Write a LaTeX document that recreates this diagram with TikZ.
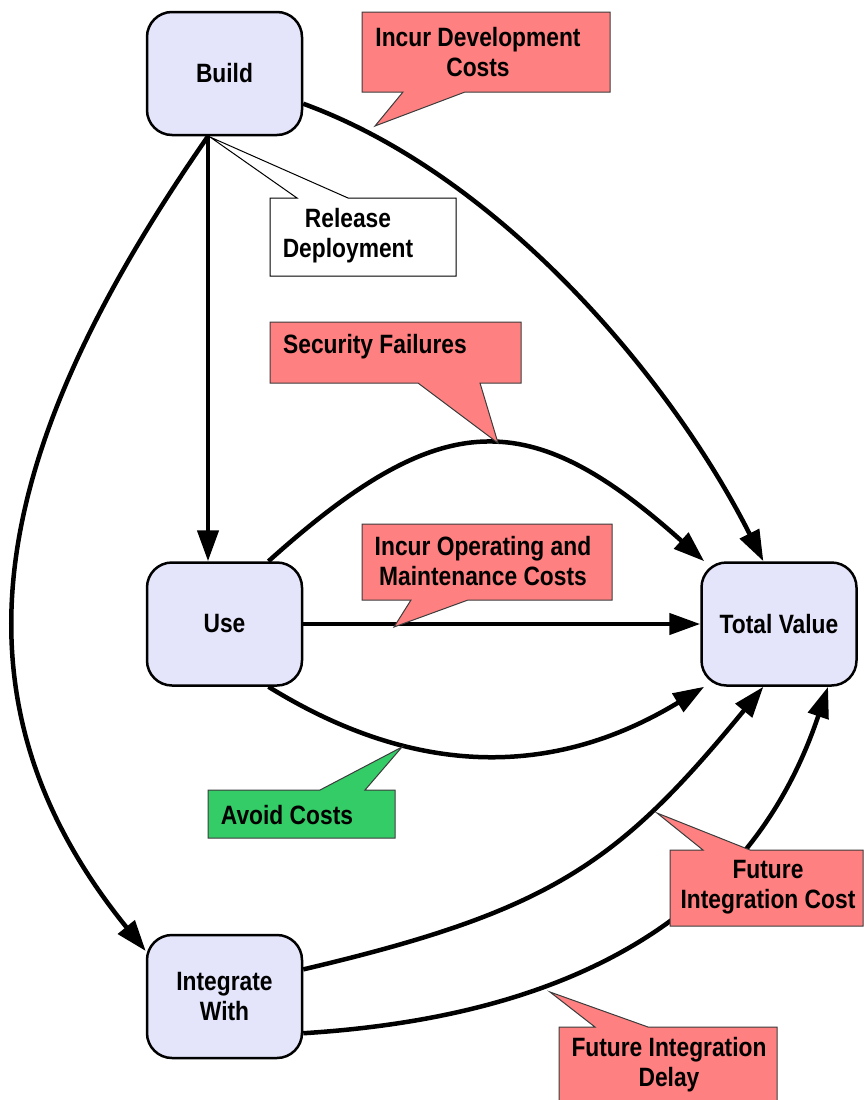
\documentclass[tikz,border=0pt]{standalone}
\usepackage{fontspec}
\setmainfont{Liberation Sans}[FakeStretch=0.86]
\usetikzlibrary{arrows.meta}
\definecolor{boxfill}{RGB}{228,228,250}
\definecolor{callred}{RGB}{255,128,128}
\definecolor{callgreen}{RGB}{51,204,102}
\definecolor{callline}{RGB}{60,60,60}
\begin{document}
\begin{tikzpicture}[x=1pt,y=-1pt,
  lbl/.style={font=\fontsize{26.5}{30}\selectfont\bfseries, align=center, inner sep=0pt},
  box/.style={lbl, draw=black, line width=2.5pt, fill=boxfill, rounded corners=25pt, minimum width=155pt, minimum height=123pt},
  conn/.style={line width=4.5pt, -{Triangle[length=31pt,width=21pt]}},
  callshape/.style={draw=callline, line width=1pt, fill=callred, line join=miter},
]
\useasboundingbox (0,0) rectangle (864,1100);

% main boxes
\node[box] (build) at (224.5,73.5) {Build};
\node[box] (use) at (224.5,624) {Use};
\node[box] (tv) at (779,624) {Total Value};
\node[box] (int) at (224.5,996.5) {Integrate\\With};

% connectors
\coordinate (bs) at ([xshift=-16.5pt]build.south);
\draw[conn] (bs) -- (bs |- use.north);
\draw[conn] (bs) .. controls (-3,440) and (-66,690) .. (int.150);
\draw[conn] (build.-21) .. controls (502,176) and (673,382) .. (tv.104);
\draw[conn] (use.55) .. controls (442,405) and (530,405) .. (tv.140);
\draw[conn] (use.east) -- (tv.west);
\draw[conn] (use.-55) .. controls (416,778) and (554,778) .. (tv.-140);
\draw[conn] (int.19) .. controls (551,911) and (618,864) .. (tv.-104);
\draw[conn] (int.-25) .. controls (645,1012) and (770,860) .. (tv.-52);

% callouts
\draw[callshape] (362,12) -- (610,12) -- (610,92) -- (465,92) -- (375,126) -- (403,92) -- (362,92) -- cycle;
\node[lbl] (tdev) at (478,52) {Incur Development\\Costs};

\draw[callshape, fill=white, draw=black] (270,198) -- (297,198) -- (210,137) -- (348,198) -- (456,198) -- (456,276) -- (270,276) -- cycle;
\node[lbl] (trel) at (348,236) {Release\\Deployment};

\draw[callshape] (270,322) -- (521,322) -- (521,383) -- (480,383) -- (498,443) -- (418,383) -- (270,383) -- cycle;
\node[lbl] (tsec) at (375,347) {Security Failures};

\draw[callshape] (362,524) -- (612,524) -- (612,600) -- (468,600) -- (394,627) -- (411,600) -- (362,600) -- cycle;
\node[lbl] (topm) at (483,561) {Incur Operating and\\Maintenance Costs};

\draw[callshape, fill=callgreen] (208,790) -- (320,790) -- (402,747) -- (365,790) -- (395,790) -- (395,838) -- (208,838) -- cycle;
\node[lbl] (tav) at (287,815) {Avoid Costs};

\draw[callshape] (670,850) -- (703,850) -- (657,813) -- (750,850) -- (863,850) -- (863,926) -- (670,926) -- cycle;
\node[lbl] (tfic) at (768,887) {Future\\Integration Cost};

\draw[callshape] (559,1027) -- (595,1027) -- (550,992) -- (648,1027) -- (777,1027) -- (777,1110) -- (559,1110) -- cycle;
\node[lbl] (tfid) at (669,1065) {Future Integration\\Delay};
\end{tikzpicture}
\end{document}
